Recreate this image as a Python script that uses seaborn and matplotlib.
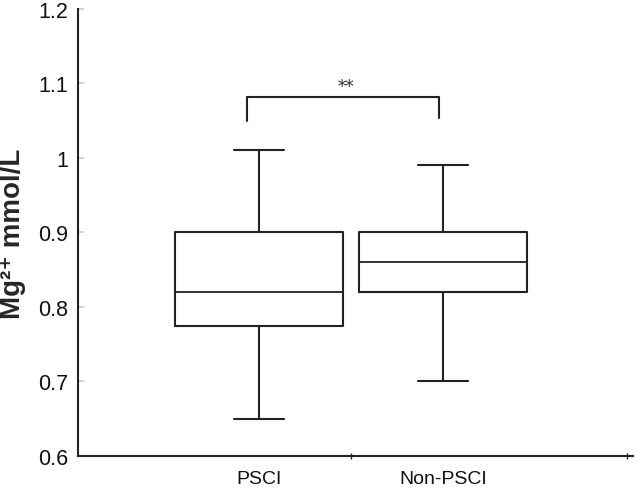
import pandas as pd
import seaborn as sns
import matplotlib.pyplot as plt

# five-number summaries (min, q1, median, q3, max)
groups = ["PSCI", "Non-PSCI"]
psci = [0.65, 0.775, 0.82, 0.90, 1.01]
non_psci = [0.70, 0.82, 0.86, 0.90, 0.99]
y_ticks = [0.6, 0.7, 0.8, 0.9, 1.0, 1.1, 1.2]
y_tick_labels = ["0.6", "0.7", "0.8", "0.9", "1", "1.1", "1.2"]

df = pd.DataFrame({
    "group": [groups[0]] * len(psci) + [groups[1]] * len(non_psci),
    "value": psci + non_psci,
})

sns.set_theme(style="ticks")
plt.rcParams["font.family"] = ["Liberation Sans", "DejaVu Sans"]

fig = plt.figure(figsize=(6.36, 4.89), dpi=100)
ax = fig.add_axes([0.123, 0.0654, 0.872, 0.9146])

line = "#222222"
sns.boxplot(data=df, x="group", y="value", order=groups, ax=ax,
            whis=(0, 100), width=0.91, fill=False, color=line,
            linewidth=1.5, capwidths=0.27,
            medianprops=dict(color=line, linewidth=1.3))

ax.set_xlim(-0.98, 2.03)
ax.set_ylim(0.6, 1.2)
ax.set_yticks(y_ticks)
ax.set_yticklabels(y_tick_labels, fontsize=15.5, color="#111111")
ax.tick_params(axis="y", direction="in", length=4, color="#cccccc", pad=7)
ax.tick_params(axis="x", length=0, labelsize=14, pad=10, labelcolor="#111111")
ax.set_xticks([0.5, 2.0], minor=True)
ax.tick_params(axis="x", which="minor", direction="inout", length=5, color=line)

ax.set_xlabel("")
ax.set_ylabel("Mg²⁺ mmol/L", fontsize=20, fontweight="bold", labelpad=9)

for side in ["top", "right"]:
    ax.spines[side].set_visible(False)
for side in ["left", "bottom"]:
    ax.spines[side].set_color(line)
    ax.spines[side].set_linewidth(1.5)

# significance bracket
ax.plot([-0.065, -0.065, 0.98, 0.98], [1.05, 1.082, 1.082, 1.054],
        color=line, linewidth=1.5)
ax.text(0.475, 1.085, "**", ha="center", va="bottom", fontsize=12,
        family=["DejaVu Serif"], color="#333333")

fig.savefig("out.png", dpi=100)
